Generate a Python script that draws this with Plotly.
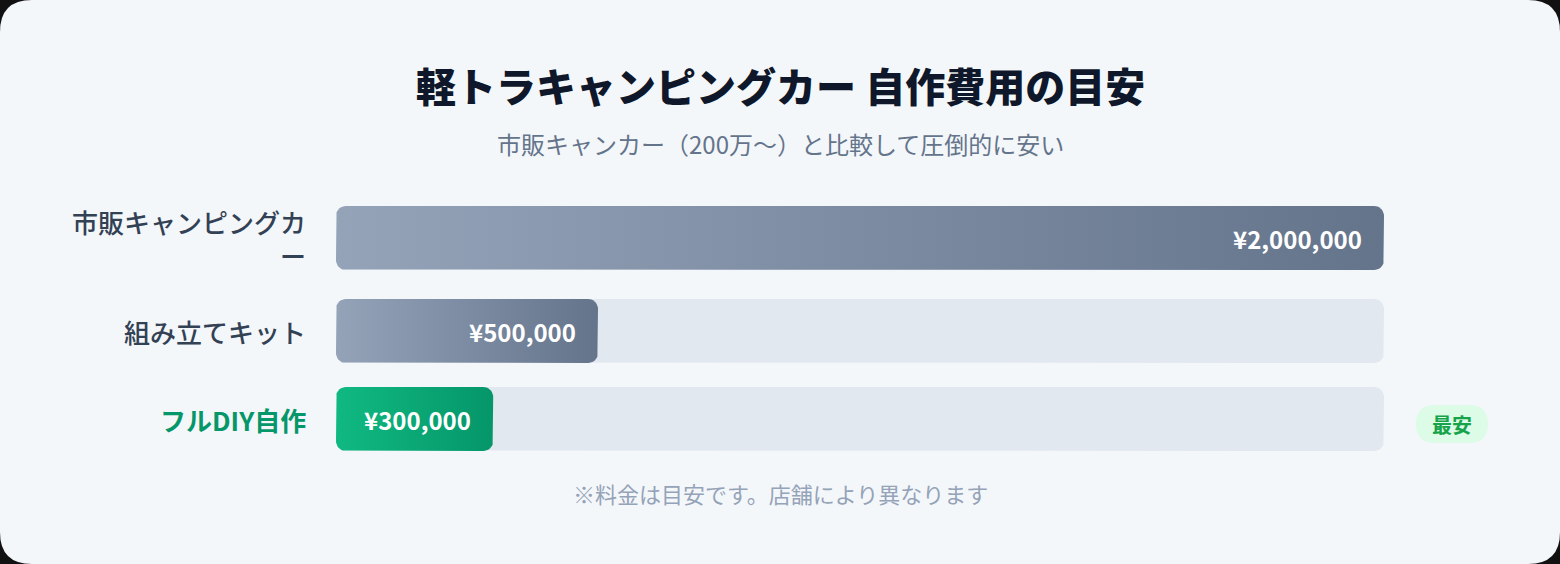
import numpy as np
import plotly.graph_objects as go

# data
categories = ["市販キャンピングカー", "組み立てキット", "フルDIY自作"]
prices = [2000000, 500000, 300000]
title_text = "軽トラキャンピングカー 自作費用の目安"
subtitle_text = "市販キャンカー（200万〜）と比較して圧倒的に安い"
note_text = "※料金は目安です。店舗により異なります"
badge_text = "最安"

# layout constants (px)
W, H = 1560, 564
TRACK_X0, TRACK_X1 = 336, 1384
BAR_H = 64
GAP = 24
LINE_H = 37
ROWS_TOP = 201
RADIUS = 10
FONT = "Noto Sans CJK JP"

xmax = max(prices)
kx = xmax / (TRACK_X1 - TRACK_X0)  # data units per pixel
cheapest = int(np.argmin(prices))


def wrap(label, n=9):
    return "<br>".join(label[i:i + n] for i in range(0, len(label), n))


def rounded_rect(x0, x1, yc, h, r_px):
    r = min(r_px, (x1 - x0) / kx / 2, h / 2)
    rx, ry = r * kx, r
    y0, y1 = yc - h / 2, yc + h / 2
    xs, ys = [], []
    for cx, cy, a0 in [(x1 - rx, y0 + ry, -np.pi / 2), (x1 - rx, y1 - ry, 0),
                       (x0 + rx, y1 - ry, np.pi / 2), (x0 + rx, y0 + ry, np.pi)]:
        t = np.linspace(a0, a0 + np.pi / 2, 10)
        xs.extend(cx + rx * np.cos(t))
        ys.extend(cy + ry * np.sin(t))
    xs.append(xs[0])
    ys.append(ys[0])
    return xs, ys


labels = [wrap(c) for c in categories]
heights = [max(BAR_H, l.count("<br>") * LINE_H + LINE_H) for l in labels]
centers = []
top = ROWS_TOP
for h in heights:
    centers.append(top + h / 2)
    top += h + GAP

fig = go.Figure()

for i, p in enumerate(prices):
    tx, ty = rounded_rect(0, xmax, centers[i], BAR_H, RADIUS)
    fig.add_trace(go.Scatter(x=tx, y=ty, mode="lines", fill="toself",
                             fillcolor="#e2e8f0", line=dict(width=0),
                             hoverinfo="skip"))
    if i == cheapest:
        grad = [[0, "#10b981"], [1, "#059669"]]
    else:
        grad = [[0, "#94a3b8"], [1, "#64748b"]]
    bx, by = rounded_rect(0, p, centers[i], BAR_H, RADIUS)
    fig.add_trace(go.Scatter(x=bx, y=by, mode="lines", fill="toself",
                             fillgradient=dict(type="horizontal", colorscale=grad),
                             line=dict(width=0), hoverinfo="skip"))

annotations = []
for i, p in enumerate(prices):
    annotations.append(dict(
        x=p, y=centers[i], xref="x", yref="y", text=f"¥{p:,}",
        xanchor="right", yanchor="middle", xshift=-20, showarrow=False,
        font=dict(family=FONT, size=24, color="white", weight=700)))
    hl = i == cheapest
    annotations.append(dict(
        x=(TRACK_X0 - 28) / W, y=centers[i], xref="paper", yref="y",
        text=labels[i], align="right", xanchor="right", yanchor="middle",
        showarrow=False,
        font=dict(family=FONT, size=26, color="#059669" if hl else "#334155",
                  weight=700 if hl else 500)))

annotations += [
    dict(x=0.5, y=85, xref="paper", yref="y", text=title_text, showarrow=False,
         xanchor="center",
         font=dict(family=FONT, size=40, color="#0f172a", weight=800)),
    dict(x=0.5, y=143, xref="paper", yref="y", text=subtitle_text, showarrow=False,
         xanchor="center",
         font=dict(family=FONT, size=24, color="#64748b")),
    dict(x=0.5, y=493, xref="paper", yref="y", text=note_text, showarrow=False,
         xanchor="center",
         font=dict(family=FONT, size=22, color="#94a3b8")),
]

# badge next to the cheapest row
bcx = (TRACK_X1 + 68) / W
bcy = centers[cheapest] + 5
bw, bh = 72 / W, 38
br = 19 / W
x0, x1 = bcx - bw / 2, bcx + bw / 2
y0, y1 = bcy - bh / 2, bcy + bh / 2
pill = (f"M {x0 + br},{y0} L {x1 - br},{y0} Q {x1},{y0} {x1},{bcy} "
        f"Q {x1},{y1} {x1 - br},{y1} L {x0 + br},{y1} Q {x0},{y1} {x0},{bcy} "
        f"Q {x0},{y0} {x0 + br},{y0} Z")
annotations.append(dict(x=bcx, y=bcy, xref="paper", yref="y", text=badge_text,
                        xanchor="center", yanchor="middle", showarrow=False,
                        font=dict(family=FONT, size=20, color="#16a34a", weight=700)))

# card background
rx, ry = 32 / W, 32 / H
card = (f"M {rx},0 L {1 - rx},0 Q 1,0 1,{ry} L 1,{1 - ry} Q 1,1 {1 - rx},1 "
        f"L {rx},1 Q 0,1 0,{1 - ry} L 0,{ry} Q 0,0 {rx},0 Z")

fig.update_layout(
    width=W, height=H,
    margin=dict(l=0, r=0, t=0, b=0),
    paper_bgcolor="#111111",
    plot_bgcolor="rgba(0,0,0,0)",
    showlegend=False,
    xaxis=dict(range=[0, xmax], domain=[TRACK_X0 / W, TRACK_X1 / W],
               visible=False, fixedrange=True),
    yaxis=dict(range=[H, 0], domain=[0, 1], visible=False, fixedrange=True),
    shapes=[
        dict(type="path", path=card, xref="paper", yref="paper",
             fillcolor="#f4f7fa", line=dict(width=0), layer="below"),
        dict(type="path", path=pill, xref="paper", yref="y",
             fillcolor="#dcfce7", line=dict(width=0), layer="below"),
    ],
    annotations=annotations,
)

fig.write_html("out.html", config={"displayModeBar": False},
               post_script="document.body.style.margin='0';")
